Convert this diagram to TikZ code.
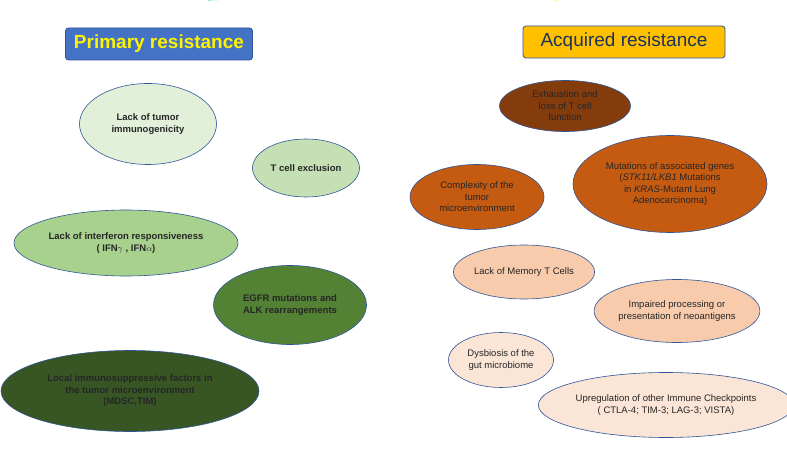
\documentclass[tikz,border=0pt]{standalone}
\usepackage{fontspec}
\setmainfont{Liberation Sans}
\usetikzlibrary{shapes.geometric}
\definecolor{titleblue}{HTML}{4472C4}
\definecolor{titlegold}{HTML}{FFC000}
\definecolor{edgeblue}{HTML}{2F5597}
\definecolor{greenA}{HTML}{E2F0D9}
\definecolor{greenB}{HTML}{C5E0B4}
\definecolor{greenC}{HTML}{A9D18E}
\definecolor{greenD}{HTML}{548235}
\definecolor{greenE}{HTML}{375623}
\definecolor{brownA}{HTML}{843C0C}
\definecolor{brownB}{HTML}{C55A11}
\definecolor{peachA}{HTML}{F8CBAD}
\definecolor{peachB}{HTML}{FBE5D6}
\tikzstyle{titlebox} = [rectangle, rounded corners=3pt, draw=edgeblue, line width=0.8pt, inner xsep=4pt, minimum height=32pt, font=\fontsize{19}{21}\selectfont\bfseries]
\tikzstyle{cause} = [ellipse, draw=edgeblue, line width=0.6pt, inner sep=0pt, align=center, text=black!85, font=\fontsize{9.5}{11.5}\selectfont]

\begin{document}
\begin{tikzpicture}[x=1pt, y=-1pt]
\useasboundingbox (0,0) rectangle (787,470);
% dividing arcs
\draw[color=teal!60!green, line width=0.6pt] (208,0) arc[start angle=90, end angle=-90, x radius=191, y radius=235];
\draw[color=yellow!85!orange, line width=0.6pt] (557,0) arc[start angle=90, end angle=270, x radius=160, y radius=235];

% primary resistance
\node (ptitle) [titlebox, fill=titleblue, text=yellow, minimum width=187pt] at (159,44) {Primary resistance};
\node (p1) [cause, fill=greenA, minimum width=137pt, minimum height=81pt] at (148,124) {\bfseries Lack of tumor\\\bfseries immunogenicity};
\node (p2) [cause, fill=greenB, minimum width=107pt, minimum height=58pt] at (306,168) {\bfseries T cell exclusion};
\node (p3) [cause, fill=greenC, minimum width=224pt, minimum height=66pt] at (126,243) {\bfseries Lack of interferon responsiveness\\\bfseries ( IFN$\gamma$ , IFN$\alpha$)};
\node (p4) [cause, fill=greenD, minimum width=153pt, minimum height=79pt] at (290,305) {\bfseries EGFR mutations and\\\bfseries ALK rearrangements};
\node (p5) [cause, fill=greenE, minimum width=258pt, minimum height=81pt] at (130,391) {\bfseries Local immunosuppressive factors in\\\bfseries the tumor microenvironment\\\bfseries (MDSC,TIM)};

% acquired resistance
\node (atitle) [titlebox, fill=titlegold, text=edgeblue!60!black, font=\fontsize{19}{21}\selectfont, minimum width=202pt] at (624,42) {Acquired resistance};
\node (a1) [cause, fill=brownA, minimum width=131pt, minimum height=51pt] at (565,106) {Exhaustion and\\loss of T cell\\function};
\node (a2) [cause, fill=brownB, minimum width=134pt, minimum height=65pt] at (477,197) {Complexity of the\\tumor\\microenvironment};
\node (a3) [cause, fill=brownB, minimum width=194pt, minimum height=97pt] at (670,184) {Mutations of associated genes\\(\textit{STK11/LKB1} Mutations\\in \textit{KRAS}-Mutant Lung\\Adenocarcinoma)};
\node (a4) [cause, fill=peachA, minimum width=135pt, minimum height=54pt] at (524,272) {Lack of Memory T Cells};
\node (a5) [cause, fill=peachA, minimum width=161pt, minimum height=63pt] at (677,311) {Impaired processing or\\presentation of neoantigens};
\node (a6) [cause, fill=peachB, minimum width=105pt, minimum height=55pt] at (501,360) {Dysbiosis of the\\gut microbiome};
\node (a7) [cause, fill=peachB, minimum width=237pt, minimum height=65pt] at (666,405) {Upregulation of other Immune Checkpoints\\( CTLA-4; TIM-3; LAG-3; VISTA)};
\end{tikzpicture}
\end{document}
